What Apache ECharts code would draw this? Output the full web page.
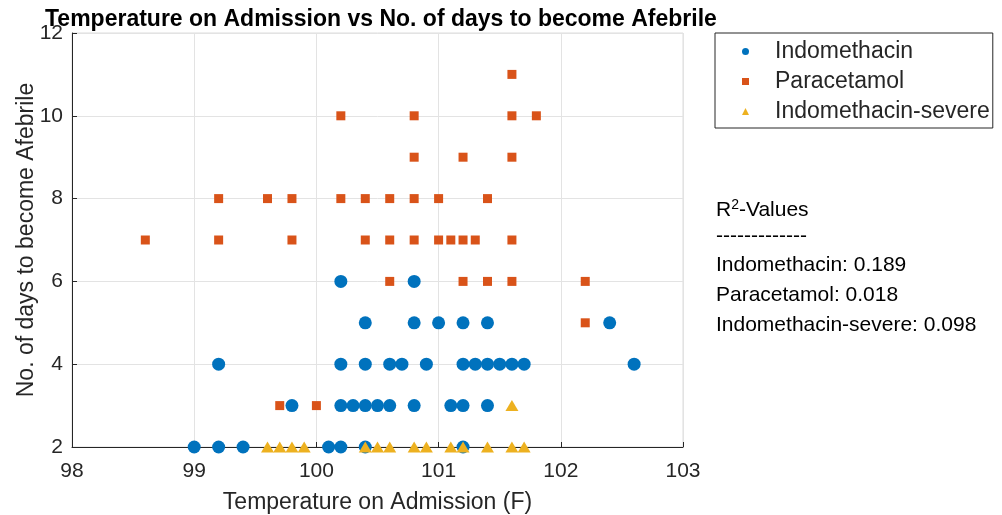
<!DOCTYPE html>
<html>
<head>
<meta charset="utf-8">
<script src="https://cdn.jsdelivr.net/npm/echarts@6/dist/echarts.min.js"></script>
<style>
  html, body { margin: 0; padding: 0; background: #fff; }
  #chart { width: 1002px; height: 515px; }
</style>
</head>
<body>
<div id="chart"></div>
<script>
// temperature (F), days to afebrile
const indomethacin = [
  [99.0, 2], [99.2, 2], [99.4, 2], [100.1, 2], [100.2, 2], [100.4, 2], [101.2, 2],
  [99.8, 3], [100.2, 3], [100.3, 3], [100.4, 3], [100.5, 3], [100.6, 3], [100.8, 3], [101.1, 3], [101.2, 3], [101.4, 3],
  [99.2, 4], [100.2, 4], [100.4, 4], [100.6, 4], [100.7, 4], [100.9, 4], [101.2, 4], [101.3, 4], [101.4, 4], [101.5, 4], [101.6, 4], [101.7, 4], [102.6, 4],
  [100.4, 5], [100.8, 5], [101.0, 5], [101.2, 5], [101.4, 5], [102.4, 5],
  [100.2, 6], [100.8, 6]
];
const paracetamol = [
  [99.7, 3], [100.0, 3],
  [102.2, 5],
  [100.6, 6], [101.2, 6], [101.4, 6], [101.6, 6], [102.2, 6],
  [98.6, 7], [99.2, 7], [99.8, 7], [100.4, 7], [100.6, 7], [100.8, 7], [101.0, 7], [101.1, 7], [101.2, 7], [101.3, 7], [101.6, 7],
  [99.2, 8], [99.6, 8], [99.8, 8], [100.2, 8], [100.4, 8], [100.6, 8], [100.8, 8], [101.0, 8], [101.4, 8],
  [100.8, 9], [101.2, 9], [101.6, 9],
  [100.2, 10], [100.8, 10], [101.6, 10], [101.8, 10],
  [101.6, 11]
];
const indomethacinSevere = [
  [99.6, 2], [99.7, 2], [99.8, 2], [99.9, 2], [100.4, 2], [100.5, 2], [100.6, 2], [100.8, 2],
  [100.9, 2], [101.1, 2], [101.2, 2], [101.4, 2], [101.6, 2], [101.7, 2],
  [101.6, 3]
];
const rSquared = [
  ['Indomethacin', '0.189'],
  ['Paracetamol', '0.018'],
  ['Indomethacin-severe', '0.098']
];

const FONT = 'Liberation Sans, Arial, sans-serif';
const AXIS_COLOR = '#262626';
const GRID_COLOR = '#e3e3e3';

const chart = echarts.init(document.getElementById('chart'), null, { renderer: 'canvas' });

const axisCommon = {
  axisLine: { show: true, onZero: false, lineStyle: { color: AXIS_COLOR, width: 1 } },
  axisTick: { show: true, inside: true, length: 5, lineStyle: { color: AXIS_COLOR } },
  splitLine: { show: true, lineStyle: { color: GRID_COLOR, width: 1 } },
  axisLabel: { color: AXIS_COLOR, fontSize: 21, fontFamily: FONT },
  nameTextStyle: { color: AXIS_COLOR, fontSize: 23, fontFamily: FONT },
  nameLocation: 'middle'
};

// R² annotation block, right of the axes
const rTexts = [
  { type: 'text', left: 716, top: 198, style: {
      text: 'R{sup|2}-Values', fill: '#000', font: '21px ' + FONT,
      rich: { sup: { fontSize: 14, fontFamily: FONT, verticalAlign: 'top', padding: [0, 0, 10, 0] } }
  } },
  { type: 'text', left: 716, top: 226, style: { text: '-------------', fill: '#000', font: '21px ' + FONT } }
];
rSquared.forEach((r, i) => {
  rTexts.push({ type: 'text', left: 716, top: 255 + i * 30,
    style: { text: r[0] + ': ' + r[1], fill: '#000', font: '21px ' + FONT } });
});

chart.setOption({
  animation: false,
  backgroundColor: '#fff',
  title: {
    text: 'Temperature on Admission vs No. of days to become Afebrile',
    left: 40, top: 3,
    textStyle: { fontSize: 23, fontWeight: 'bold', color: '#000', fontFamily: FONT }
  },
  grid: {
    left: 72, right: 319, top: 33, bottom: 68,
    outerBoundsMode: 'none', containLabel: false,
    show: true, borderColor: '#dcdcdc', borderWidth: 1
  },
  legend: {
    orient: 'vertical', left: 715, top: 33,
    padding: [7, 3, 5, 27],
    itemWidth: 7, itemHeight: 7, itemGap: 7,
    borderColor: '#262626', borderWidth: 1,
    textStyle: { fontSize: 23, color: AXIS_COLOR, fontFamily: FONT, padding: [0, 0, 0, 21] },
    data: [
      { name: 'Indomethacin', icon: 'circle' },
      { name: 'Paracetamol', icon: 'rect' },
      { name: 'Indomethacin-severe', icon: 'triangle' }
    ]
  },
  xAxis: Object.assign({}, axisCommon, {
    type: 'value', min: 98, max: 103, interval: 1,
    name: 'Temperature on Admission (F)', nameGap: 44,
    axisLabel: Object.assign({}, axisCommon.axisLabel, { margin: 14 })
  }),
  yAxis: Object.assign({}, axisCommon, {
    type: 'value', min: 2, max: 12, interval: 2,
    name: 'No. of days to become Afebrile', nameGap: 34, nameMoveOverlap: false,
    axisLabel: Object.assign({}, axisCommon.axisLabel, { margin: 9 })
  }),
  series: [
    { name: 'Indomethacin', type: 'scatter', symbol: 'circle', symbolSize: 13,
      itemStyle: { color: '#0072BD', opacity: 1 }, data: indomethacin, clip: false },
    { name: 'Paracetamol', type: 'scatter', symbol: 'rect', symbolSize: 9,
      itemStyle: { color: '#D95319', opacity: 1 }, data: paracetamol, clip: false },
    { name: 'Indomethacin-severe', type: 'scatter', symbol: 'triangle', symbolSize: [13, 11],
      itemStyle: { color: '#EDB120', opacity: 1 }, data: indomethacinSevere, clip: false }
  ],
  graphic: rTexts
});
</script>
</body>
</html>
